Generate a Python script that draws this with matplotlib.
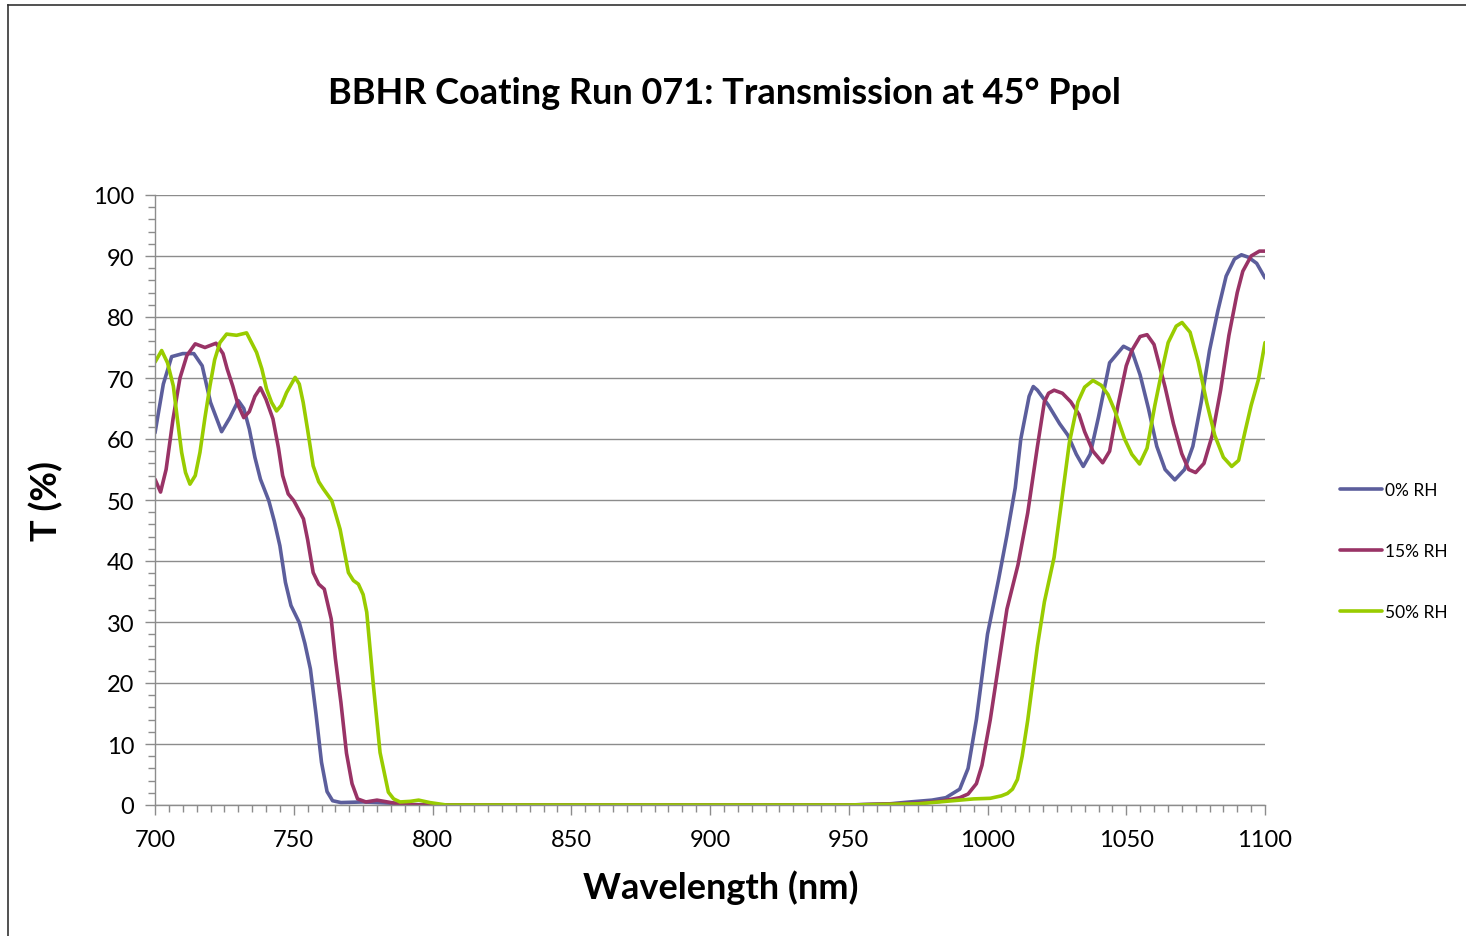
import matplotlib
matplotlib.use("Agg")
import matplotlib.pyplot as plt
from matplotlib.lines import Line2D
from matplotlib.ticker import MultipleLocator

# values (wavelength nm, transmission %)
wl_0 = [700, 703, 706, 710, 714, 717, 720, 724, 727, 730, 732, 734, 736, 738, 741, 743,
        745, 747, 749, 752, 754, 756, 758, 760, 762, 764, 767, 775, 785, 790, 800,
        850, 900, 950, 965, 972, 980, 985, 990, 993, 996, 1000, 1004, 1007, 1010, 1012,
        1015, 1016.5, 1018, 1022, 1026, 1029, 1032, 1034.5, 1037, 1040, 1044, 1049,
        1052, 1055, 1058, 1061, 1064, 1067.5, 1071, 1074, 1077, 1080, 1083, 1086,
        1089, 1091.5, 1094, 1097, 1100]
t_0 = [61, 69, 73.5, 74, 74, 72, 66, 61.2, 63.5, 66.3, 65, 61.6, 57, 53.4, 49.9, 46.5,
       42.5, 36.5, 32.7, 29.9, 26.5, 22.3, 15, 7, 2.2, 0.7, 0.4, 0.5, 0.3, 0.1, 0,
       0, 0, 0, 0.2, 0.5, 0.8, 1.2, 2.6, 6, 14, 28, 37, 44.2, 52, 60, 67, 68.6, 68,
       65.5, 62.5, 60.6, 57.5, 55.5, 57.5, 63.6, 72.5, 75.2, 74.5, 70.5, 65, 58.8,
       55, 53.3, 55, 58.8, 66, 74.5, 81, 86.7, 89.5, 90.2, 89.8, 88.8, 86.4]

wl_15 = [700, 702, 704, 706.5, 709, 711.5, 714.5, 718, 722, 724.5, 726, 728, 730, 732,
         734, 736, 738, 740, 742.5, 744.5, 746, 748, 750, 752, 753.5, 755, 757, 759,
         761, 763.5, 765, 767, 769, 771, 773, 776, 780, 785, 790, 795, 800,
         850, 900, 950, 975, 983, 990, 993, 996, 998, 1001, 1004, 1007, 1011, 1014.5,
         1018, 1020.5, 1022, 1024, 1027, 1030, 1033, 1035, 1038, 1041.5, 1044, 1047,
         1050, 1052, 1055, 1057.5, 1060, 1064, 1067, 1070, 1072.5, 1075, 1078, 1081,
         1084, 1087, 1090, 1092, 1095, 1098, 1100]
t_15 = [53.4, 51.3, 55, 63.3, 70, 73.7, 75.6, 75, 75.7, 74, 71.5, 68.7, 65.5, 63.5,
        64.5, 67, 68.4, 66.5, 63.3, 58.5, 54, 51, 49.9, 48.2, 46.9, 43.5, 38.1, 36.2,
        35.4, 30.5, 24, 16.8, 8.5, 3.5, 1.0, 0.5, 0.8, 0.4, 0.1, 0, 0,
        0, 0, 0, 0.3, 0.6, 1.2, 1.8, 3.5, 6.5, 14, 23, 32.1, 39.4, 47.9, 58.8, 66.1,
        67.5, 68, 67.5, 66.1, 64, 61.2, 58, 56.1, 58, 65.5, 72, 74.5, 76.8, 77.1, 75.5,
        68.5, 62.5, 57.6, 55, 54.5, 56, 60.6, 68, 77, 84, 87.5, 90, 90.8, 90.8]

wl_50 = [700, 702.4, 704.5, 706.6, 708, 709.6, 711, 712.6, 714.5, 716.2, 718, 719.8,
         721.5, 723.4, 725.8, 729.4, 733, 736.6, 738.5, 740.2, 742, 743.8, 745.5,
         747.4, 750.5, 752, 753.4, 755, 757, 759, 760.7, 763.7, 766.7, 769.7, 771.5,
         773.3, 775, 776.3, 778.7, 781.1, 784.1, 786, 788.3, 792, 795, 799, 805,
         850, 900, 950, 975, 985, 990, 995, 1001, 1005, 1007.2, 1009, 1010.8, 1012.5,
         1014.5, 1018, 1020.5, 1024, 1026.5, 1029.5, 1032.6, 1035, 1038, 1041, 1043.4,
         1046, 1049.4, 1052, 1054.8, 1057.5, 1060.3, 1063, 1065.1, 1068, 1070.1, 1073,
         1075.9, 1079, 1081.9, 1085, 1088, 1090.5, 1092.8, 1095, 1097.6, 1100]
t_50 = [72.6, 74.5, 72.5, 68.7, 63.5, 57.8, 54.5, 52.6, 54, 57.8, 63.5, 68.7, 73, 75.8,
        77.2, 77, 77.4, 74.2, 71.5, 68.2, 66, 64.6, 65.5, 67.6, 70.1, 69, 66, 61.5,
        55.6, 53, 51.8, 49.9, 45.2, 38.1, 36.8, 36.2, 34.5, 31.6, 19.6, 8.6, 2.1, 1.0,
        0.5, 0.6, 0.8, 0.4, 0,
        0, 0, 0, 0.2, 0.6, 0.8, 1.0, 1.1, 1.5, 1.9, 2.6, 4.2, 8, 13.9, 26.1, 33.3,
        40.6, 49.1, 59.4, 66.1, 68.5, 69.6, 68.8, 67.3, 64.5, 60, 57.5, 55.9, 58.5,
        65.5, 71.5, 75.8, 78.5, 79.1, 77.5, 72.7, 66, 60.6, 57, 55.5, 56.5, 61.2, 65.5,
        69.7, 75.8]

series = [("0% RH", wl_0, t_0, "#5c5e9c"),
          ("15% RH", wl_15, t_15, "#993366"),
          ("50% RH", wl_50, t_50, "#99cc00")]

W, H = 1466, 937
fig = plt.figure(figsize=(W / 100, H / 100), dpi=100)
plt.rcParams['font.family'] = ['Lato', 'DejaVu Sans']

ax = fig.add_axes([155 / W, 1 - 806 / H, 1110 / W, 610 / H])

for name, x, y, c in series:
    ax.plot(x, y, color=c, lw=2.6, label=name, solid_joinstyle='round',
            solid_capstyle='round')

ax.set_xlim(700, 1100)
ax.set_ylim(0, 100)
ax.xaxis.set_major_locator(MultipleLocator(50))
ax.xaxis.set_minor_locator(MultipleLocator(5))
ax.yaxis.set_major_locator(MultipleLocator(10))
ax.yaxis.set_minor_locator(MultipleLocator(2))
ax.grid(axis='y', which='major', color='#8c8c8c', lw=1.0)
ax.set_axisbelow(True)
for s in ['top', 'right']:
    ax.spines[s].set_visible(False)
for s in ['left', 'bottom']:
    ax.spines[s].set_color('#8c8c8c')
    ax.spines[s].set_linewidth(1.0)
ax.tick_params(which='both', direction='out', color='#8c8c8c', width=1.0,
               labelsize=17, labelcolor='black')
ax.tick_params(which='major', length=7, pad=10)
ax.tick_params(which='minor', length=5)
ax.tick_params(axis='y', which='major', pad=8)

ax.set_xlabel("Wavelength (nm)", fontsize=26, fontweight='bold', va='center')
ax.xaxis.set_label_coords((721 - 155) / 1110, -(888 - 806) / 610)
ax.set_ylabel("T (%)", fontsize=26, fontweight='bold', va='center')
ax.yaxis.set_label_coords(-(155 - 46) / 1110, (806 - 501) / 610)
fig.text(724 / W, 1 - 93 / H, "BBHR Coating Run 071: Transmission at 45° Ppol",
         ha='center', va='center', fontsize=26, fontweight='bold')

ax.legend(loc='center left', bbox_to_anchor=(1340 / W, 1 - 552 / H),
          bbox_transform=fig.transFigure, frameon=False, fontsize=12.5,
          handlelength=2.4, handletextpad=0.2, labelspacing=2.6, borderpad=0,
          borderaxespad=0)

# outer chart border (left and top visible in the reference)
fig.add_artist(Line2D([8 / W, 8 / W], [0, 1 - 6 / H], color='#333333', lw=1.2,
                      transform=fig.transFigure))
fig.add_artist(Line2D([8 / W, 1], [1 - 6 / H, 1 - 6 / H], color='#333333', lw=1.2,
                      transform=fig.transFigure))

fig.savefig("out.png", dpi=100)
